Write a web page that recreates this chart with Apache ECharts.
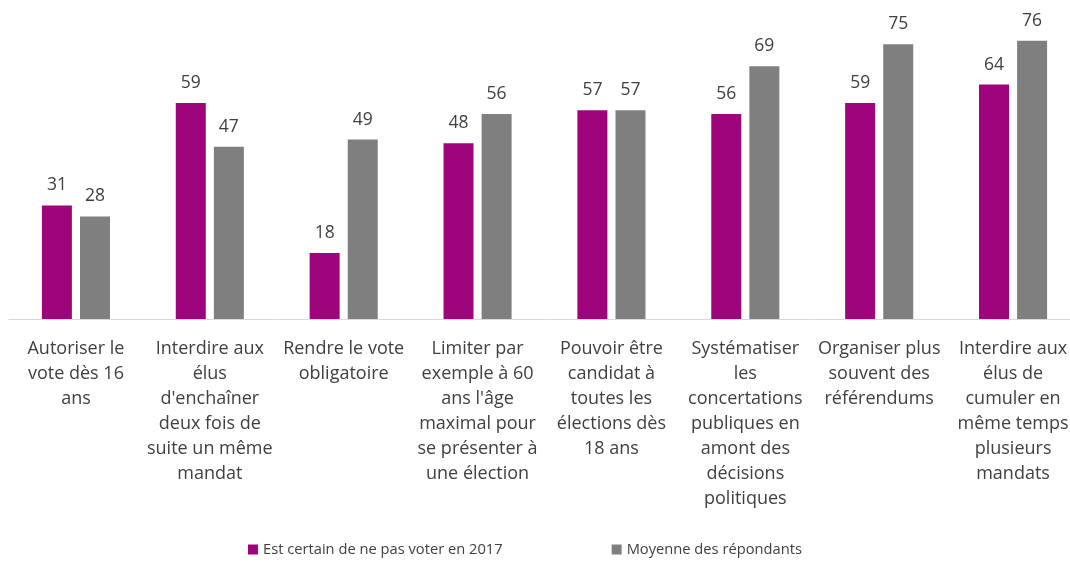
<!DOCTYPE html>
<html><head><meta charset="utf-8">
<script src="https://cdn.jsdelivr.net/npm/echarts@6/dist/echarts.min.js"></script>
<style>html,body{margin:0;padding:0;background:#fff;overflow:hidden}#c{width:1082px;height:562px}</style>
</head><body><div id="c"></div>
<script>
var categories = [
  "Autoriser le\nvote dès 16\nans",
  "Interdire aux\nélus\nd'enchaîner\ndeux fois de\nsuite un même\nmandat",
  "Rendre le vote\nobligatoire",
  "Limiter par\nexemple à 60\nans l'âge\nmaximal pour\nse présenter à\nune élection",
  "Pouvoir être\ncandidat à\ntoutes les\nélections dès\n18 ans",
  "Systématiser\nles\nconcertations\npubliques en\namont des\ndécisions\npolitiques",
  "Organiser plus\nsouvent des\nréférendums",
  "Interdire aux\nélus de\ncumuler en\nmême temps\nplusieurs\nmandats"
];
var seriesNames = ["Est certain de ne pas voter en 2017", "Moyenne des répondants"];
var nonVoters = [31, 59, 18, 48, 57, 56, 59, 64];
var average = [28, 47, 49, 56, 57, 69, 75, 76];

var font = "'Open Sans', sans-serif";
var chart = echarts.init(document.getElementById('c'), null, {renderer: 'canvas'});
chart.setOption({
  animation: false,
  textStyle: {fontFamily: font},
  grid: {left: 9, width: 1071, top: 26, bottom: 243, containLabel: false},
  legend: {
    bottom: 0, left: 243, itemWidth: 10, itemHeight: 10, itemGap: 109,
    icon: 'rect',
    textStyle: {fontFamily: font, fontSize: 14.7, color: '#404040'},
    data: seriesNames
  },
  xAxis: {
    type: 'category', data: categories,
    axisLine: {lineStyle: {color: '#d9d9d9', width: 1}},
    axisTick: {show: false},
    axisLabel: {interval: 0, fontFamily: font, fontSize: 18, color: '#404040', lineHeight: 25, margin: 17}
  },
  yAxis: {type: 'value', min: 0, max: 80, show: false, splitLine: {show: false}},
  series: [
    {name: seriesNames[0], type: 'bar', data: nonVoters, barWidth: 30, barGap: '27%',
     itemStyle: {color: '#9e057c'},
     label: {show: true, position: 'top', distance: 11, fontFamily: font, fontSize: 17.5, color: '#404040'}},
    {name: seriesNames[1], type: 'bar', data: average, barWidth: 30,
     itemStyle: {color: '#7f7f7f'},
     label: {show: true, position: 'top', distance: 11, fontFamily: font, fontSize: 17.5, color: '#404040'}}
  ]
});
</script></body></html>
